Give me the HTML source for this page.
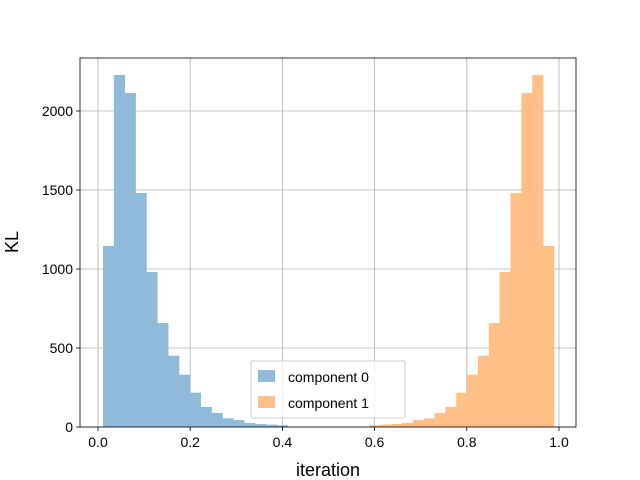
<!DOCTYPE html>
<html><head><meta charset="utf-8"><style>body{margin:0;background:#fff}svg{display:block;font-family:"Liberation Sans","DejaVu Sans",sans-serif}</style></head>
<body>
<svg id="chart" width="640" height="480">
<g id="grid"></g><g id="bars"></g><g id="axes"></g>
</svg>
<script>
const comp0Counts = [1146,2228,2114,1481,981,658,451,331,217,127,89,55,44,25,19,15,11];
const comp1Counts = [11,15,19,25,44,55,89,127,217,331,451,658,981,1481,2114,2228,1146];
const binStart0 = 0.0108;
const binStart1 = 0.5886;
const binWidth = 0.02356;
const xTicks = [0,0.2,0.4,0.6,0.8,1.0];
const xTickLabels = ["0.0","0.2","0.4","0.6","0.8","1.0"];
const yTicks = [0,500,1000,1500,2000];
const yTickLabels = ["0","500","1000","1500","2000"];
const NS="http://www.w3.org/2000/svg";
const L=80,R=576,T=58,B=427;
const x=v=>98+v*461;
const y=v=>B-v*0.158;
function mk(tag,attrs,parent,text){const e=document.createElementNS(NS,tag);for(const k in attrs)e.setAttribute(k,attrs[k]);if(text!==undefined)e.textContent=text;parent.appendChild(e);return e;}
const svg=document.getElementById('chart'),grid=document.getElementById('grid'),bars=document.getElementById('bars'),axes=document.getElementById('axes');
xTicks.forEach((t,i)=>{
 const g=mk('line',{x1:x(t),x2:x(t),y1:T,y2:B,stroke:'#b0b0b0','stroke-width':0.8},grid);
 
 
 const tk=mk('line',{x1:x(t),x2:x(t),y1:B,y2:B+4,stroke:'#000','stroke-width':0.8},axes);
 
 
 const lb=mk('text',{x:x(t),y:B+20,'text-anchor':'middle','font-size':14},axes,xTickLabels[i]);
 
 
});
yTicks.forEach((t,i)=>{
 const g=mk('line',{x1:L,x2:R,y1:y(t),y2:y(t),stroke:'#b0b0b0','stroke-width':0.8},grid);
 
 
 const tk=mk('line',{x1:L-4,x2:L,y1:y(t),y2:y(t),stroke:'#000','stroke-width':0.8},axes);
 
 
 const lb=mk('text',{x:L-7,y:y(t)+5,'text-anchor':'end','font-size':14},axes,yTickLabels[i]);
 
 
});
function drawSeries(counts,start,color,name){
 counts.forEach((c,i)=>{
  const x0=x(start+i*binWidth),x1=x(start+(i+1)*binWidth);
  const r=mk('rect',{x:x0,y:y(c),width:x1-x0+0.3,height:B-y(c),fill:color},bars);
  
  
 });
}
drawSeries(comp0Counts,binStart0,'#8fbad9','bar-component-0');
drawSeries(comp1Counts,binStart1,'#ffbf86','bar-component-1');
const fr=mk('rect',{x:L,y:T,width:R-L,height:B-T,fill:'none',stroke:'#000','stroke-width':0.8},axes);


const xl=mk('text',{x:328,y:476,'text-anchor':'middle','font-size':18},axes,'iteration');


const yl=mk('text',{x:18,y:242,'text-anchor':'middle','font-size':18,transform:'rotate(-90 18 242)'},axes,'KL');


const lg=mk('g',{},axes);


mk('rect',{x:251,y:361,width:154,height:57,fill:'#fff','fill-opacity':0.8,stroke:'#ccc',rx:2},lg);
const e0=mk('g',{},lg);


mk('rect',{x:258,y:370,width:17,height:12,fill:'#8fbad9'},e0);
mk('text',{x:288,y:382,'font-size':14},e0,'component 0');
const e1=mk('g',{},lg);


mk('rect',{x:258,y:396,width:17,height:12,fill:'#ffbf86'},e1);
mk('text',{x:288,y:408,'font-size':14},e1,'component 1');
</script>
</body></html>
